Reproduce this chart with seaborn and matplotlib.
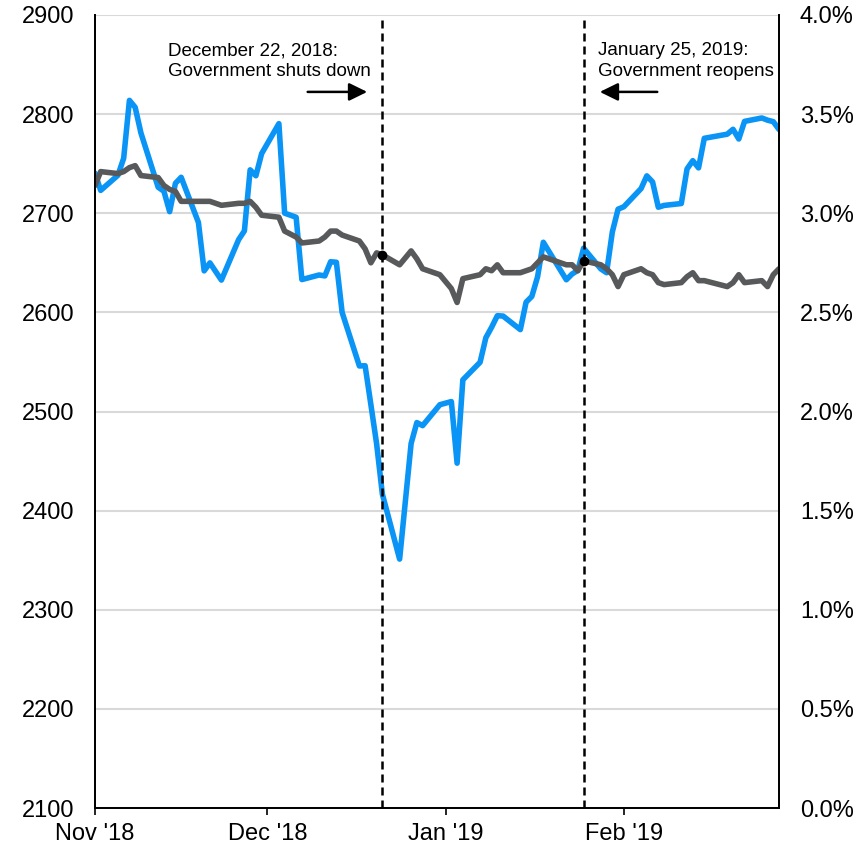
import pandas as pd
import numpy as np
import matplotlib
matplotlib.use("Agg")
import matplotlib.pyplot as plt
import matplotlib.dates as mdates
from matplotlib.ticker import FuncFormatter
import seaborn as sns

# trading days shown on the chart
nov_days = [1, 2, 5, 6, 7, 8, 9, 12, 13, 14, 15, 16, 19, 20, 21, 23, 26, 27, 28, 29, 30]
dec_days = [3, 4, 6, 7, 10, 11, 12, 13, 14, 17, 18, 19, 20, 21, 24, 26, 27, 28, 31]
jan_days = [2, 3, 4, 7, 8, 9, 10, 11, 14, 15, 16, 17, 18, 22, 23, 24, 25, 28, 29, 30, 31]
feb_days = [1, 4, 5, 6, 7, 8, 11, 12, 13, 14, 15, 19, 20, 21, 22, 25, 26, 27, 28]

# S&P 500 close (left axis)
sp500 = [2740.37, 2723.06, 2738.31, 2755.45, 2813.89, 2806.83, 2781.01, 2726.22, 2722.18, 2701.58,
         2730.20, 2736.27, 2690.73, 2641.89, 2649.93, 2632.56, 2673.45, 2682.17, 2743.79, 2737.80, 2760.17,
         2790.37, 2700.06, 2695.95, 2633.08, 2637.72, 2636.78, 2651.07, 2650.54, 2599.95, 2545.94,
         2546.16, 2506.96, 2467.42, 2416.62, 2351.10, 2467.70, 2488.83, 2485.74, 2506.85,
         2510.03, 2447.89, 2531.94, 2549.69, 2574.41, 2584.96, 2596.64, 2596.26, 2582.61, 2610.30,
         2616.10, 2635.96, 2670.71, 2632.90, 2638.70, 2642.33, 2664.76, 2643.85, 2640.00, 2681.05, 2704.10,
         2706.53, 2724.87, 2737.70, 2731.61, 2706.05, 2707.88, 2709.80, 2744.73, 2753.03, 2745.73,
         2775.60, 2779.76, 2784.70, 2774.88, 2792.67, 2796.11, 2793.90, 2792.38, 2784.49]

# 10-year treasury yield, % (right axis)
yield_10y = [3.14, 3.21, 3.20, 3.21, 3.23, 3.24, 3.19, 3.18, 3.14, 3.12,
             3.11, 3.06, 3.06, 3.06, 3.06, 3.04, 3.05, 3.05, 3.06, 3.03, 2.99,
             2.98, 2.91, 2.88, 2.85, 2.86, 2.88, 2.91, 2.91, 2.89, 2.86,
             2.82, 2.75, 2.80, 2.79, 2.74, 2.81, 2.77, 2.72, 2.69,
             2.62, 2.55, 2.67, 2.69, 2.72, 2.71, 2.74, 2.70, 2.70, 2.71,
             2.72, 2.75, 2.78, 2.74, 2.74, 2.71, 2.76, 2.74, 2.72, 2.69, 2.63,
             2.69, 2.72, 2.70, 2.69, 2.65, 2.64, 2.65, 2.68, 2.70, 2.66,
             2.66, 2.63, 2.65, 2.69, 2.65, 2.66, 2.63, 2.69, 2.72]

shutdown_date = "2018-12-21"
reopen_date = "2019-01-25"

dates = ([f"2018-11-{d:02d}" for d in nov_days] + [f"2018-12-{d:02d}" for d in dec_days]
         + [f"2019-01-{d:02d}" for d in jan_days] + [f"2019-02-{d:02d}" for d in feb_days])
df = pd.DataFrame({"date": pd.to_datetime(dates), "sp500": sp500, "yield": yield_10y})

BLUE = "#0A94F5"
GREY = "#58595B"

sns.set_theme(style="white")
plt.rcParams['font.family'] = ['Liberation Sans', 'DejaVu Sans']

fig = plt.figure(figsize=(8.63, 8.51), dpi=100)
ax = fig.add_axes([0.110, 0.0505, 0.7927, 0.9319])

sns.lineplot(data=df, x="date", y="sp500", ax=ax, color=BLUE, lw=4.0)
ax2 = ax.twinx()
sns.lineplot(data=df, x="date", y="yield", ax=ax2, color=GREY, lw=4.0)

ax.set_xlim(pd.Timestamp("2018-11-01"), pd.Timestamp("2019-02-28"))
ax.set_ylim(2100, 2900)
ax.set_yticks(range(2100, 2901, 100))
ax2.set_ylim(0, 4)
ax2.set_yticks(np.arange(0, 4.01, 0.5))
ax2.yaxis.set_major_formatter(FuncFormatter(lambda v, p: f"{v:.1f}%"))

ax.xaxis.set_major_locator(mdates.MonthLocator())
ax.xaxis.set_major_formatter(mdates.DateFormatter("%b '%y"))

ax.set_xlabel("")
ax.set_ylabel("")
ax2.set_ylabel("")

ax.grid(axis='y', color='#D9D9D9', lw=1.5)
ax.grid(axis='x', visible=False)
ax.set_axisbelow(True)

for a in (ax, ax2):
    a.spines['top'].set_visible(False)
    for s in ('left', 'right', 'bottom'):
        a.spines[s].set_color('black')
        a.spines[s].set_linewidth(1.3)

ax.tick_params(axis='y', length=0, pad=15, labelsize=17, colors='black')
ax2.tick_params(axis='y', length=0, pad=15, labelsize=17, colors='black')
ax.tick_params(axis='x', length=5, width=1.2, direction='out', pad=6, labelsize=17,
               colors='black', bottom=True)

# shutdown markers
for d in (shutdown_date, reopen_date):
    ts = pd.Timestamp(d)
    ax2.axvline(ts, color='black', ls=(0, (3.2, 2.0)), lw=1.8, zorder=4)
    yv = df.loc[df['date'] == ts, 'yield'].iloc[0]
    ax2.scatter([ts], [yv], s=36, color='black', zorder=6)

ax.text(0.107, 0.942, "December 22, 2018:\nGovernment shuts down", transform=ax.transAxes,
        ha='left', va='center', fontsize=13.5, linespacing=1.3, color='black')
ax.text(0.735, 0.942, "January 25, 2019:\nGovernment reopens", transform=ax.transAxes,
        ha='left', va='center', fontsize=13.5, linespacing=1.3, color='black')

arrow = dict(arrowstyle='-|>,head_length=0.55,head_width=0.27', lw=1.8, color='black',
             shrinkA=0, shrinkB=0, mutation_scale=20)
ax.annotate("", xy=(0.398, 0.903), xytext=(0.311, 0.903), xycoords='axes fraction',
            textcoords='axes fraction', arrowprops=arrow)
ax.annotate("", xy=(0.738, 0.903), xytext=(0.822, 0.903), xycoords='axes fraction',
            textcoords='axes fraction', arrowprops=arrow)

fig.savefig("out.png", dpi=100)
